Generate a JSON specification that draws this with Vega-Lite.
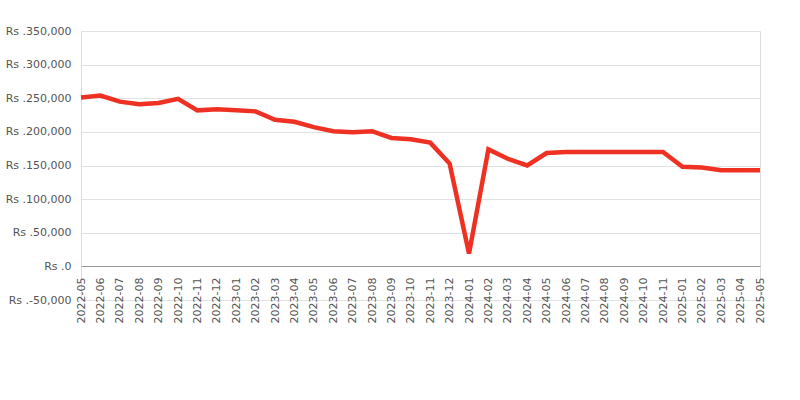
{
  "$schema": "https://vega.github.io/schema/vega-lite/v6.json",
  "width": 679,
  "height": 269,
  "autosize": {"type": "none"},
  "padding": {"left": 81, "top": 31, "right": 40, "bottom": 100},
  "background": "white",
  "config": {
    "view": {"stroke": "#dddddd", "strokeWidth": 1},
    "font": "DejaVu Sans"
  },
  "data": {
    "values": [
      {"month": "2022-05", "price": 251000},
      {"month": "2022-06", "price": 254000},
      {"month": "2022-07", "price": 245000},
      {"month": "2022-08", "price": 241000},
      {"month": "2022-09", "price": 243000},
      {"month": "2022-10", "price": 249000},
      {"month": "2022-11", "price": 232000},
      {"month": "2022-12", "price": 233500},
      {"month": "2023-01", "price": 232000},
      {"month": "2023-02", "price": 230500},
      {"month": "2023-03", "price": 218000},
      {"month": "2023-04", "price": 215000},
      {"month": "2023-05", "price": 207000},
      {"month": "2023-06", "price": 201000},
      {"month": "2023-07", "price": 199500},
      {"month": "2023-08", "price": 201000},
      {"month": "2023-09", "price": 191000},
      {"month": "2023-10", "price": 189000},
      {"month": "2023-11", "price": 184000},
      {"month": "2023-12", "price": 153000},
      {"month": "2024-01", "price": 19000},
      {"month": "2024-02", "price": 174000},
      {"month": "2024-03", "price": 160000},
      {"month": "2024-04", "price": 150000},
      {"month": "2024-05", "price": 168500},
      {"month": "2024-06", "price": 170000},
      {"month": "2024-07", "price": 170000},
      {"month": "2024-08", "price": 170000},
      {"month": "2024-09", "price": 170000},
      {"month": "2024-10", "price": 170000},
      {"month": "2024-11", "price": 170000},
      {"month": "2025-01", "price": 148000},
      {"month": "2025-02", "price": 147000},
      {"month": "2025-03", "price": 143000},
      {"month": "2025-04", "price": 143000},
      {"month": "2025-05", "price": 143000}
    ]
  },
  "mark": {"type": "line", "color": "#ef3124", "strokeWidth": 4.5, "strokeJoin": "miter"},
  "encoding": {
    "x": {
      "field": "month",
      "type": "ordinal",
      "sort": null,
      "scale": {"type": "point", "padding": 0},
      "axis": {
        "title": null,
        "offset": -34,
        "labelAngle": -90,
        "labelAlign": "right",
        "labelBaseline": "middle",
        "labelFontSize": 11,
        "labelColor": "#555555",
        "labelPadding": 11,
        "ticks": false,
        "grid": false,
        "domainColor": "#999999",
        "domainWidth": 1,
        "labelOverlap": false
      }
    },
    "y": {
      "field": "price",
      "type": "quantitative",
      "scale": {"domain": [-50000, 350000], "nice": false, "zero": false},
      "axis": {
        "title": null,
        "values": [-50000, 0, 50000, 100000, 150000, 200000, 250000, 300000, 350000],
        "labelExpr": "'Rs .' + replace(format(datum.value, ','), '−', '-')",
        "labelFontSize": 11,
        "labelColor": "#555555",
        "labelPadding": 10,
        "ticks": false,
        "domain": false,
        "gridColor": "#e2e2e2",
        "gridWidth": 1
      }
    }
  }
}
